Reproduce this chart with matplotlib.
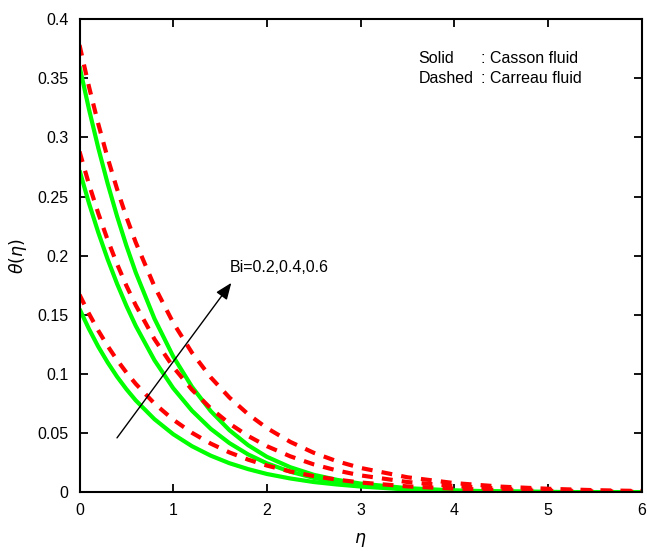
import matplotlib.pyplot as plt

# eta grid and curves
eta = [0, 0.1, 0.2, 0.3, 0.4, 0.5, 0.6, 0.8, 1.0, 1.2, 1.4, 1.6, 1.8, 2.0,
       2.25, 2.5, 2.75, 3.0, 3.5, 4.0, 4.5, 5.0, 5.5, 6.0]

# Casson fluid (solid), Bi = 0.2, 0.4, 0.6
casson_02 = [0.155, 0.1382, 0.1231, 0.1098, 0.0978, 0.0872, 0.0777, 0.0618, 0.0491, 0.0390,
             0.0310, 0.0246, 0.0196, 0.0155, 0.0117, 0.0087, 0.0066, 0.0049, 0.0024, 0.0012,
             0.0006, 0.0003, 0.0001, 0.0]
casson_04 = [0.272, 0.2446, 0.2197, 0.1970, 0.1764, 0.1577, 0.1407, 0.1116, 0.0880, 0.0690,
             0.0537, 0.0416, 0.0320, 0.0245, 0.0174, 0.0122, 0.0085, 0.0059, 0.0027, 0.0012,
             0.0005, 0.0002, 0.0001, 0.0]
casson_06 = [0.360, 0.3241, 0.2911, 0.2610, 0.2335, 0.2085, 0.1858, 0.1467, 0.1148, 0.0892,
             0.0687, 0.0525, 0.0398, 0.0300, 0.0212, 0.0148, 0.0105, 0.0074, 0.0035, 0.0016,
             0.0007, 0.0003, 0.0001, 0.0]

# Carreau fluid (dashed), Bi = 0.2, 0.4, 0.6
carreau_02 = [0.167, 0.1511, 0.1367, 0.1237, 0.1119, 0.1013, 0.0917, 0.0750, 0.0614, 0.0503,
              0.0412, 0.0337, 0.0276, 0.0226, 0.0176, 0.0137, 0.0107, 0.0083, 0.0050, 0.0031,
              0.0019, 0.0011, 0.0007, 0.0004]
carreau_04 = [0.288, 0.2606, 0.2358, 0.2134, 0.1931, 0.1747, 0.1581, 0.1294, 0.1059, 0.0867,
              0.0710, 0.0581, 0.0476, 0.0390, 0.0304, 0.0236, 0.0184, 0.0143, 0.0087, 0.0053,
              0.0032, 0.0019, 0.0012, 0.0007]
carreau_06 = [0.378, 0.3431, 0.3114, 0.2826, 0.2565, 0.2327, 0.2112, 0.1740, 0.1433, 0.1180,
              0.0972, 0.0801, 0.0660, 0.0543, 0.0426, 0.0334, 0.0262, 0.0206, 0.0127, 0.0078,
              0.0048, 0.0030, 0.0018, 0.0011]

x_ticks = [0, 1, 2, 3, 4, 5, 6]
y_ticks = [0, 0.05, 0.1, 0.15, 0.2, 0.25, 0.3, 0.35, 0.4]
y_labels = ['0', '0.05', '0.1', '0.15', '0.2', '0.25', '0.3', '0.35', '0.4']

plt.rcParams['font.family'] = ['Liberation Sans', 'DejaVu Sans']

fig = plt.figure(figsize=(6.47, 5.51), dpi=100)
ax = fig.add_axes([0.1229, 0.1065, 0.8689, 0.859])

green = '#00ff00'
red = '#ff0000'
dash = (0, (2.6, 2.2))

for c in [casson_02, casson_04, casson_06]:
    ax.plot(eta, c, color=green, lw=3.0, solid_capstyle='butt')
for c in [carreau_02, carreau_04, carreau_06]:
    ax.plot(eta, c, color=red, lw=3.0, linestyle=dash)

ax.set_xlim(0, 6)
ax.set_ylim(0, 0.4)
ax.set_xticks(x_ticks)
ax.set_yticks(y_ticks)
ax.set_yticklabels(y_labels)
ax.tick_params(direction='in', length=6, width=1.3, labelsize=11.5, top=True, right=True, pad=8)
for s in ['top', 'bottom', 'left', 'right']:
    ax.spines[s].set_linewidth(1.5)

ax.set_xlabel(r'$\eta$', fontsize=12.5, labelpad=9)
ax.set_ylabel(r'$\theta(\eta)$', fontsize=12.5, labelpad=6)

# Bi arrow
ax.annotate('', xy=(1.62, 0.177), xytext=(0.40, 0.046),
            arrowprops=dict(arrowstyle='-|>,head_length=1.0,head_width=0.4',
                            color='black', lw=1.0, shrinkA=0, shrinkB=0))
ax.text(1.6, 0.19, 'Bi=0.2,0.4,0.6', fontsize=11.5, va='center', ha='left')

ax.text(3.62, 0.367, 'Solid', fontsize=11.5, va='center', ha='left')
ax.text(4.28, 0.367, ': Casson fluid', fontsize=11.5, va='center', ha='left')
ax.text(3.62, 0.3495, 'Dashed', fontsize=11.5, va='center', ha='left')
ax.text(4.28, 0.3495, ': Carreau fluid', fontsize=11.5, va='center', ha='left')

fig.savefig('out.png', dpi=100)
